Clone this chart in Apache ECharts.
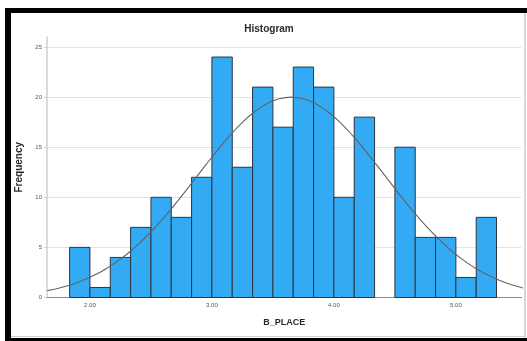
<!DOCTYPE html>
<html>
<head>
<meta charset="utf-8">
<script src="https://cdn.jsdelivr.net/npm/echarts@6/dist/echarts.min.js"></script>
<style>
  html, body { margin: 0; padding: 0; background: #fff; }
  #chart { width: 527px; height: 341px; }
</style>
</head>
<body>
<div id="chart"></div>
<script>
// Histogram bins of B_PLACE (bin width 1/6)
const binLower = [1.8333, 2.0000, 2.1667, 2.3333, 2.5000, 2.6667, 2.8333, 3.0000, 3.1667, 3.3333,
                  3.5000, 3.6667, 3.8333, 4.0000, 4.1667, 4.5000, 4.6667, 4.8333, 5.0000, 5.1667];
const binUpper = [2.0000, 2.1667, 2.3333, 2.5000, 2.6667, 2.8333, 3.0000, 3.1667, 3.3333, 3.5000,
                  3.6667, 3.8333, 4.0000, 4.1667, 4.3333, 4.6667, 4.8333, 5.0000, 5.1667, 5.3333];
const frequency = [5, 1, 4, 7, 10, 8, 12, 24, 13, 21, 17, 23, 21, 10, 18, 15, 6, 6, 2, 8];

// Fitted normal curve, sampled along the axis
const curveX = [1.65, 1.75, 1.85, 1.95, 2.05, 2.15, 2.25, 2.35, 2.45, 2.55,
                2.65, 2.75, 2.85, 2.95, 3.05, 3.15, 3.25, 3.35, 3.45, 3.55,
                3.65, 3.75, 3.85, 3.95, 4.05, 4.15, 4.25, 4.35, 4.45, 4.55,
                4.65, 4.75, 4.85, 4.95, 5.05, 5.15, 5.25, 5.35, 5.45, 5.55];
const curveY = [0.69, 0.95, 1.30, 1.75, 2.31, 3.00, 3.83, 4.81, 5.94, 7.21,
                8.60, 10.10, 11.66, 13.23, 14.76, 16.20, 17.48, 18.54, 19.34, 19.83,
                20.00, 19.83, 19.34, 18.54, 17.48, 16.20, 14.76, 13.23, 11.66, 10.10,
                8.60, 7.21, 5.94, 4.81, 3.83, 3.00, 2.31, 1.75, 1.30, 0.95];

// Axis ticks
const xTickValues = [2, 3, 4, 5];
const yTickValues = [0, 5, 10, 15, 20, 25];

const barData = binLower.map((lo, i) => [lo, binUpper[i], frequency[i]]);
const curveData = curveX.map((x, i) => [x, curveY[i]]);

const chart = echarts.init(document.getElementById('chart'), null, { renderer: 'canvas' });
const font = 'Liberation Sans, Arial, sans-serif';

chart.setOption({
  animation: false,
  backgroundColor: '#ffffff',
  grid: { left: 47, right: 5.5, top: 37, bottom: 43.5, containLabel: false },
  xAxis: {
    type: 'value',
    min: 1.648, max: 5.538,
    name: 'B_PLACE', nameLocation: 'middle', nameGap: 21,
    nameTextStyle: { fontFamily: font, fontSize: 9, fontWeight: 'bold', color: '#2a2a2a' },
    axisLine: { show: true, lineStyle: { color: '#8a8a8a', width: 1.2 } },
    axisTick: { show: false },
    splitLine: { show: false },
    axisLabel: {
      customValues: xTickValues,
      formatter: v => v.toFixed(2),
      fontFamily: font, fontSize: 6, color: '#555', margin: 5
    }
  },
  yAxis: {
    type: 'value',
    min: 0, max: 26, interval: 5,
    name: 'Frequency', nameLocation: 'middle', nameGap: 22, nameRotate: 90,
    nameTextStyle: { fontFamily: font, fontSize: 10, fontWeight: 'bold', color: '#2a2a2a' },
    axisLine: { show: true, lineStyle: { color: '#cfcfcf', width: 1.5 } },
    axisTick: { show: true, length: 3, lineStyle: { color: '#cfcfcf' }, customValues: yTickValues },
    splitLine: { show: true, lineStyle: { color: '#e3e3e3', width: 1 } },
    axisLabel: { customValues: yTickValues, fontFamily: font, fontSize: 6, color: '#555', margin: 5 }
  },
  series: [
    {
      type: 'custom',
      data: barData,
      encode: { x: [0, 1], y: 2 },
      renderItem: (params, api) => {
        const p0 = api.coord([api.value(0), api.value(2)]);
        const p1 = api.coord([api.value(1), 0]);
        return {
          type: 'rect',
          shape: { x: p0[0], y: p0[1], width: p1[0] - p0[0], height: p1[1] - p0[1] },
          style: { fill: '#33aaf4', stroke: '#2b3540', lineWidth: 1 }
        };
      },
      z: 2
    },
    {
      type: 'line',
      data: curveData,
      smooth: true,
      showSymbol: false,
      lineStyle: { color: '#636363', width: 1.1 },
      z: 3
    }
  ],
  graphic: [
    // chart title
    { type: 'text', x: 269, y: 29, silent: true,
      style: { text: 'Histogram', fontFamily: font, fontSize: 10, fontWeight: 'bold', fill: '#2a2a2a',
               align: 'center', verticalAlign: 'middle' } },
    // frame around the chart
    { type: 'rect', shape: { x: 5, y: 8, width: 522, height: 5 }, style: { fill: '#000' }, silent: true },
    { type: 'rect', shape: { x: 5, y: 8, width: 6, height: 333 }, style: { fill: '#000' }, silent: true },
    { type: 'rect', shape: { x: 5, y: 338, width: 522, height: 3 }, style: { fill: '#000' }, silent: true },
    { type: 'line', shape: { x1: 525, y1: 13, x2: 525, y2: 338 }, style: { stroke: '#c8c8c8', lineWidth: 1.5 }, silent: true },
    { type: 'line', shape: { x1: 11, y1: 336.5, x2: 525, y2: 336.5 }, style: { stroke: '#d0d0d0', lineWidth: 1 }, silent: true }
  ]
});
</script>
</body>
</html>
